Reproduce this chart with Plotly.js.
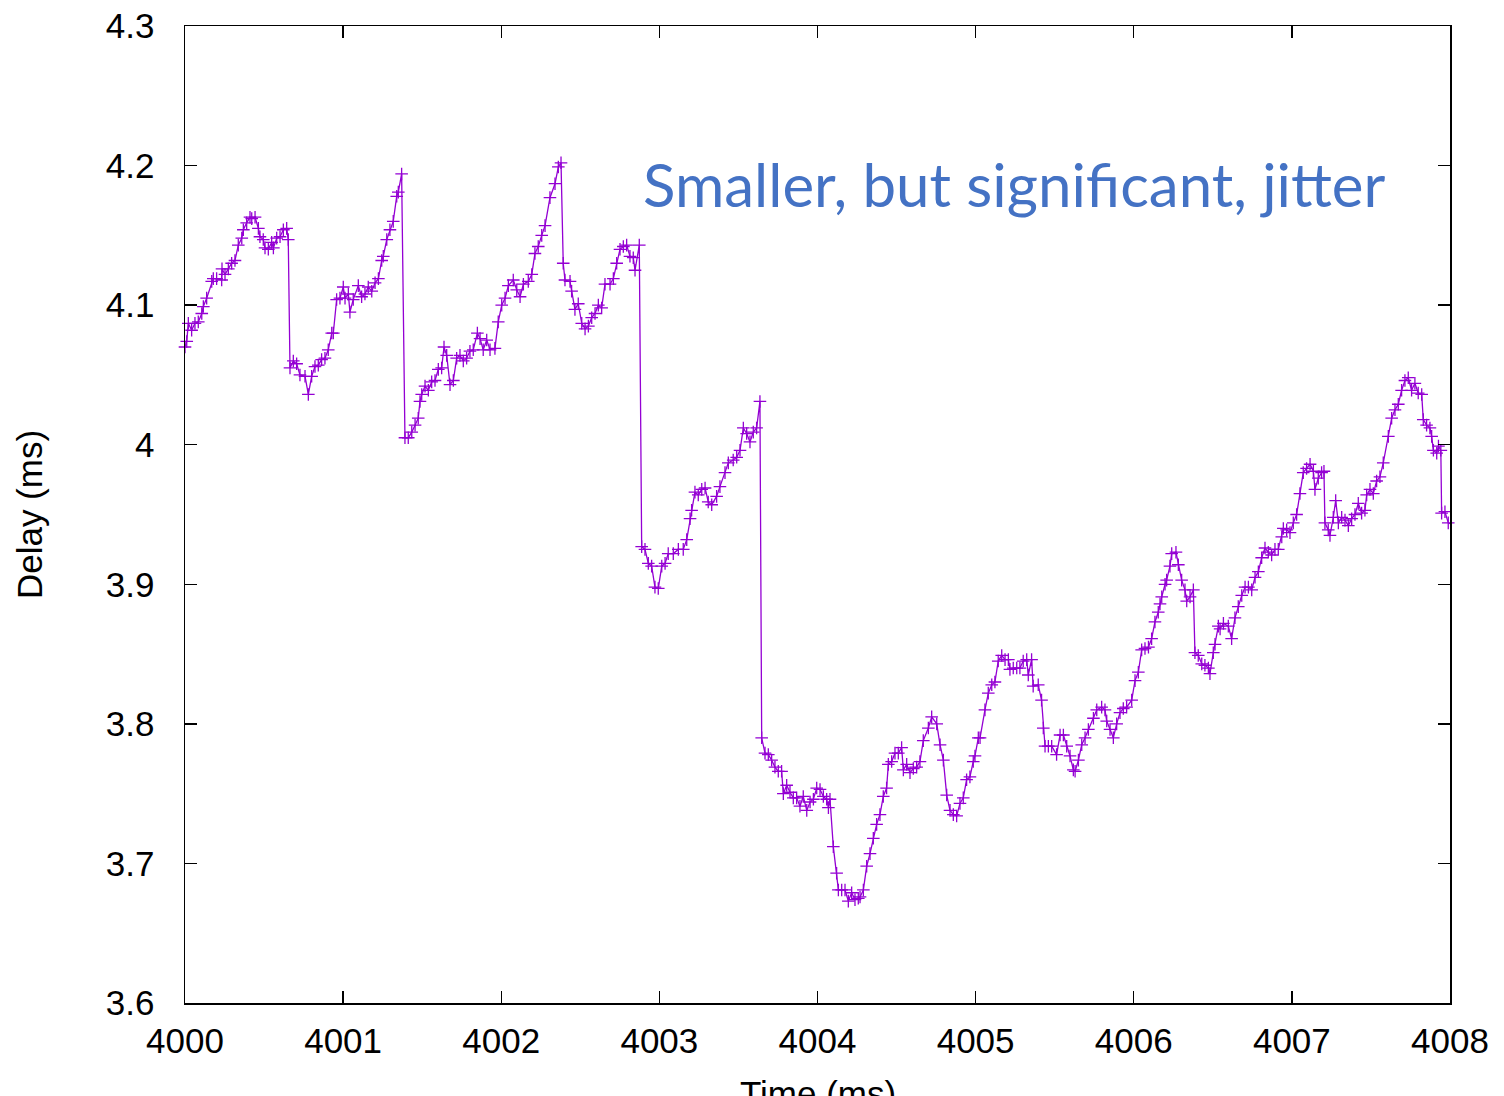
<!DOCTYPE html>
<html>
<head>
<meta charset="utf-8">
<script src="https://cdn.plot.ly/plotly-3.0.1.min.js"></script>
<style>html,body{margin:0;padding:0;background:#fff;}#chart{width:1504px;height:1096px;}</style>
</head>
<body>
<div id="chart"></div>
<script>
// Time (ms)
var timeMs = [
4000.000,4000.011,4000.021,4000.042,4000.063,4000.084,4000.106,4000.116,4000.137,4000.169,4000.179,4000.200,4000.232,4000.234,4000.253,4000.274,4000.295,4000.316,4000.337,4000.359,4000.369,4000.390,4000.411,4000.422,4000.443,4000.464,4000.474,4000.495,4000.506,4000.527,4000.548,4000.559,4000.580,4000.601,4000.622,4000.643,4000.653,
4000.664,4000.685,4000.706,4000.727,4000.759,4000.780,4000.801,4000.822,4000.843,4000.864,4000.885,4000.906,4000.928,4000.938,4000.959,4000.980,4001.001,4001.012,4001.033,4001.043,4001.064,4001.096,4001.117,4001.138,4001.159,4001.181,4001.202,4001.223,4001.244,4001.254,4001.276,4001.296,4001.317,4001.339,4001.349,4001.370,
4001.391,4001.412,4001.434,4001.455,4001.475,4001.486,4001.497,4001.518,4001.539,4001.560,4001.581,4001.602,4001.623,4001.638,4001.655,4001.676,4001.697,4001.718,4001.739,4001.760,4001.781,4001.802,4001.823,4001.849,4001.866,4001.886,4001.908,4001.929,4001.960,4001.981,4002.003,4002.024,4002.045,4002.076,4002.098,4002.119,4002.140,4002.171,4002.193,4002.213,4002.234,4002.256,4002.277,4002.308,4002.340,4002.361,4002.378,
4002.392,4002.403,4002.435,4002.445,4002.466,4002.487,4002.509,4002.530,4002.551,4002.572,4002.593,4002.614,4002.635,4002.656,4002.688,4002.709,4002.730,4002.751,4002.772,4002.793,4002.814,4002.835,4002.846,4002.873,
4002.888,4002.909,4002.930,4002.951,4002.972,4002.993,4003.015,4003.036,4003.056,4003.088,4003.120,4003.151,4003.173,4003.194,4003.204,4003.225,4003.246,4003.268,4003.289,4003.309,4003.331,4003.362,4003.383,4003.415,4003.436,4003.467,4003.489,4003.510,4003.531,4003.552,4003.573,4003.594,4003.615,4003.636,
4003.647,4003.668,4003.689,4003.710,4003.731,4003.752,4003.773,4003.784,4003.805,4003.826,4003.847,4003.868,4003.889,4003.910,4003.932,4003.953,4003.974,4003.995,4004.016,4004.037,4004.058,4004.069,4004.079,4004.100,4004.121,4004.132,4004.153,4004.174,4004.195,4004.216,4004.237,4004.258,4004.269,4004.290,4004.311,4004.332,4004.353,4004.374,4004.395,4004.416,4004.437,4004.448,4004.469,4004.490,4004.511,4004.532,4004.543,4004.564,4004.585,4004.606,4004.627,4004.648,4004.669,4004.701,4004.722,4004.754,4004.775,4004.796,4004.817,4004.838,4004.859,4004.880,4004.901,4004.922,4004.943,4004.964,4004.985,4004.996,
4005.017,4005.028,4005.059,4005.080,4005.102,4005.122,4005.143,4005.165,4005.186,4005.207,4005.217,4005.238,4005.260,4005.280,4005.301,4005.323,4005.333,4005.354,4005.364,4005.396,4005.417,4005.428,4005.439,4005.460,4005.481,4005.512,4005.534,4005.555,4005.576,4005.597,4005.618,4005.629,4005.650,4005.671,4005.692,4005.713,4005.745,4005.766,4005.797,4005.818,4005.829,4005.850,4005.871,4005.892,4005.913,4005.934,4005.955,4005.987,
4006.008,4006.029,4006.050,4006.071,4006.093,4006.113,4006.134,4006.155,4006.166,4006.177,4006.198,4006.208,4006.229,4006.240,4006.267,4006.282,4006.303,4006.324,4006.335,4006.356,4006.377,4006.387,4006.408,4006.430,4006.450,4006.472,4006.482,4006.503,4006.514,4006.535,4006.546,4006.567,4006.598,4006.619,4006.640,4006.661,4006.683,4006.704,4006.725,4006.746,4006.767,4006.788,4006.809,4006.830,4006.851,4006.872,4006.893,4006.914,4006.936,4006.946,4006.967,4006.988,
4007.009,4007.030,4007.051,4007.072,4007.093,4007.115,4007.136,4007.146,4007.167,4007.188,4007.203,4007.209,4007.230,4007.241,4007.262,4007.277,4007.294,4007.315,4007.336,4007.357,4007.378,4007.399,4007.420,4007.441,4007.462,4007.473,4007.494,4007.515,4007.536,4007.557,4007.578,4007.610,4007.631,4007.652,4007.673,4007.694,4007.715,4007.736,4007.757,4007.778,4007.799,4007.821,4007.831,4007.852,4007.873,4007.884,4007.895,4007.916,4007.927,4007.942,4007.947,4007.968,4007.989,4008.010
];
// Delay (ms)
var delayMs = [
4.070,4.074,4.087,4.082,4.087,4.088,4.094,4.099,4.105,4.117,4.119,4.119,4.118,4.126,4.122,4.126,4.130,4.132,4.143,4.148,4.154,4.159,4.163,4.162,4.163,4.155,4.149,4.147,4.141,4.140,4.145,4.141,4.148,4.149,4.154,4.155,4.147,
4.055,4.060,4.058,4.050,4.049,4.036,4.049,4.056,4.057,4.061,4.062,4.068,4.080,4.080,4.104,4.105,4.113,4.105,4.108,4.095,4.104,4.114,4.106,4.108,4.113,4.110,4.116,4.119,4.132,4.135,4.147,4.154,4.160,4.178,4.181,4.194,
4.005,4.005,4.009,4.014,4.019,4.031,4.036,4.042,4.039,4.045,4.046,4.054,4.055,4.070,4.064,4.043,4.046,4.062,4.064,4.060,4.062,4.067,4.068,4.080,4.076,4.068,4.075,4.068,4.069,4.088,4.100,4.105,4.114,4.118,4.111,4.106,4.115,4.117,4.122,4.137,4.142,4.150,4.157,4.177,4.187,4.199,4.202,
4.130,4.118,4.117,4.110,4.097,4.101,4.087,4.083,4.085,4.091,4.094,4.100,4.098,4.115,4.115,4.119,4.130,4.140,4.142,4.143,4.135,4.134,4.125,4.143,
3.927,3.925,3.915,3.913,3.898,3.897,3.913,3.915,3.922,3.922,3.925,3.925,3.932,3.947,3.953,3.966,3.964,3.968,3.969,3.959,3.957,3.963,3.970,3.980,3.987,3.989,3.991,3.996,4.012,4.008,4.002,4.009,4.012,4.031,
3.790,3.779,3.778,3.774,3.769,3.766,3.766,3.750,3.756,3.751,3.747,3.747,3.741,3.748,3.738,3.744,3.746,3.754,3.753,3.748,3.746,3.740,3.746,3.712,3.693,3.681,3.681,3.681,3.673,3.679,3.674,3.675,3.676,3.681,3.698,3.707,3.718,3.728,3.735,3.748,3.754,3.771,3.773,3.779,3.779,3.783,3.767,3.771,3.765,3.768,3.769,3.773,3.788,3.797,3.805,3.800,3.785,3.774,3.749,3.738,3.735,3.734,3.743,3.747,3.760,3.762,3.773,3.777,
3.790,3.790,3.810,3.822,3.828,3.830,3.845,3.849,3.846,3.846,3.839,3.840,3.840,3.840,3.845,3.846,3.835,3.846,3.827,3.828,3.817,3.797,3.784,3.784,3.784,3.778,3.792,3.792,3.784,3.777,3.767,3.766,3.774,3.785,3.790,3.796,3.804,3.810,3.812,3.810,3.802,3.796,3.790,3.800,3.808,3.811,3.812,3.817,
3.831,3.837,3.853,3.854,3.855,3.861,3.873,3.880,3.886,3.891,3.900,3.903,3.913,3.922,3.923,3.914,3.903,3.896,3.888,3.891,3.896,3.851,3.849,3.843,3.842,3.840,3.836,3.851,3.857,3.870,3.868,3.872,3.870,3.861,3.876,3.884,3.892,3.898,3.898,3.896,3.905,3.909,3.919,3.926,3.923,3.921,3.925,3.925,3.934,3.940,3.939,3.937,
3.944,3.950,3.965,3.980,3.983,3.986,3.981,3.968,3.976,3.980,3.981,3.944,3.939,3.935,3.948,3.960,3.944,3.948,3.946,3.942,3.947,3.950,3.958,3.951,3.953,3.964,3.968,3.965,3.974,3.977,3.987,4.006,4.019,4.025,4.029,4.039,4.046,4.048,4.039,4.044,4.037,4.036,4.018,4.014,4.012,4.006,3.996,3.994,3.999,3.996,3.951,3.952,3.944,3.943
];
var xTicks = [4000,4001,4002,4003,4004,4005,4006,4007,4008];
var yTicks = [3.6,3.7,3.8,3.9,4,4.1,4.2,4.3];
var xTitle = "Time (ms)";
var yTitle = "Delay (ms)";
var noteText = "Smaller, but significant, jitter";

var purple = '#9400D3';
var trace = {
  x: timeMs, y: delayMs, type: 'scatter', mode: 'lines+markers',
  line: {color: purple, width: 1.3},
  marker: {symbol: 'cross-thin-open', size: 9, color: purple, line: {color: purple, width: 1.3}},
  cliponaxis: false, showlegend: false, hoverinfo: 'x+y'
};
var axisFont = {family: 'Liberation Sans, Arial, sans-serif', size: 35, color: '#000'};
var layout = {
  width: 1504, height: 1096,
  paper_bgcolor: '#fff', plot_bgcolor: '#fff',
  margin: {l: 185, r: 54, t: 26, b: 93},
  xaxis: {
    range: [4000, 4008], tickvals: xTicks, ticktext: xTicks.map(String),
    showgrid: false, zeroline: false, showline: true, linecolor: '#000', linewidth: 1.5,
    mirror: 'ticks', ticks: 'inside', ticklen: 12, tickwidth: 1.3, tickcolor: '#000',
    tickfont: axisFont, ticklabelstandoff: 6
  },
  yaxis: {
    range: [3.6, 4.3], tickvals: yTicks, ticktext: yTicks.map(function(v){return String(v);}),
    showgrid: false, zeroline: false, showline: true, linecolor: '#000', linewidth: 1.5,
    mirror: 'ticks', ticks: 'inside', ticklen: 12, tickwidth: 1.3, tickcolor: '#000',
    tickfont: axisFont, ticklabelstandoff: 22,
    title: {text: yTitle, font: axisFont, standoff: 52}
  },
  annotations: [{
    text: noteText, xref: 'paper', yref: 'paper', x: 0.656, y: 0.838,
    xanchor: 'center', yanchor: 'middle', showarrow: false,
    font: {family: 'Lato, Open Sans, sans-serif', size: 60, color: '#4472C4'}
  }, {
    text: xTitle, xref: 'paper', yref: 'paper', x: 0.5, y: -0.0705,
    xanchor: 'center', yanchor: 'top', showarrow: false,
    font: axisFont
  }]
};
Plotly.newPlot('chart', [trace], layout, {displayModeBar: false, staticPlot: true});
</script>
</body>
</html>
